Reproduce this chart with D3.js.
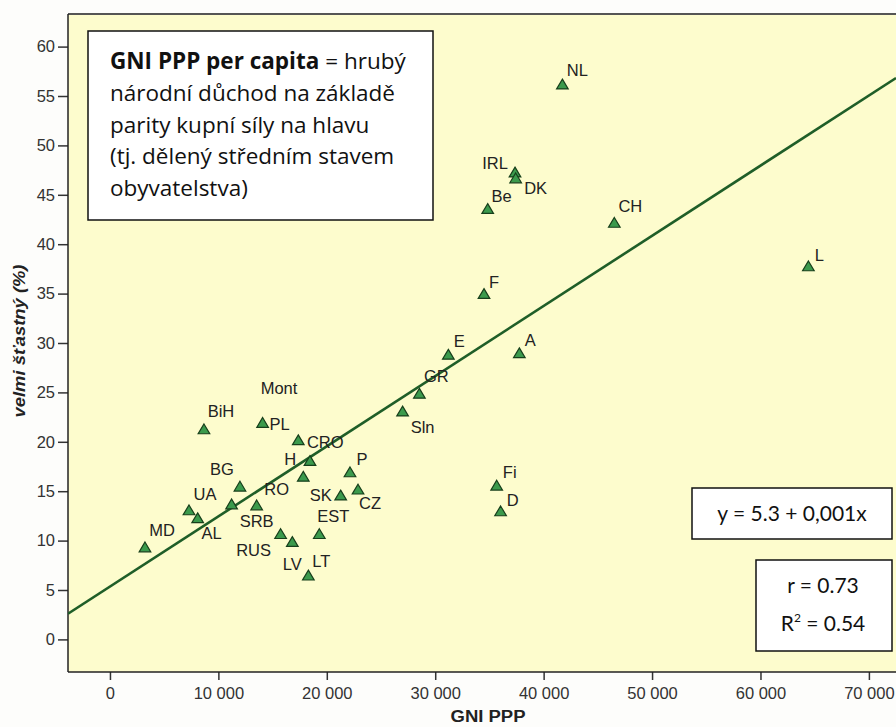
<!DOCTYPE html>
<html lang="cs">
<head>
<meta charset="utf-8" />
<title>GNI PPP a velmi šťastní</title>
<script src="https://d3js.org/d3.v7.min.js"></script>
<style>
  body { margin: 0; background: #fdfdfb; }
  svg text { font-family: "Liberation Sans", Arial, sans-serif; }
  .tick text { fill: #333; font-size: 16.5px; }
  .note text { font-family: Lato, "Open Sans", sans-serif; fill: #111; }
  .note text.long { font-family: "Open Sans", Lato, sans-serif; }
</style>
</head>
<body>
<div id="chart"></div>
<script>
// countries (labels), GNI PPP per capita and share of "very happy" (%)
var codes = ["MD", "UA", "AL", "BiH", "BG", "SRB", "RO", "PL", "Mont", "CRO", "H", "P", "SK", "CZ", "EST", "RUS", "LV", "LT",
             "Sln", "GR", "E", "A", "F", "Fi", "D", "Be", "IRL", "DK", "NL", "CH", "L"];
var gni = [3230, 7290, 8090, 8670, 11990, 11220, 13530, 14080, 18450, 17370, 17830, 22140, 21280, 22880, 19310, 15740, 16820, 18300,
           26990, 28540, 31210, 37760, 34500, 35670, 36030, 34840, 37360, 37420, 41730, 46520, 64420];
var happy = [9.35, 13.1, 12.3, 21.3, 15.5, 13.7, 13.6, 21.95, 18.1, 20.2, 16.5, 16.95, 14.6, 15.2, 10.7, 10.7, 9.9, 6.5,
             23.1, 24.9, 28.85, 29.0, 35.0, 15.6, 13.0, 43.6, 47.3, 46.7, 56.2, 42.2, 37.8];
var xTicks = [0, 10000, 20000, 30000, 40000, 50000, 60000, 70000];
var yTicks = [0, 5, 10, 15, 20, 25, 30, 35, 40, 45, 50, 55, 60];
// regression line y = a + b*x
var fitA = 5.35;
var fitB = 0.00071;

var noteLines = [
  [{t: "GNI PPP per capita", b: true}, {t: " = hrubý", b: false}],
  [{t: "národní důchod na základě", b: false}],
  [{t: "parity kupní síly na hlavu", b: false}],
  [{t: "(tj. dělený středním stavem", b: false}],
  [{t: "obyvatelstva)", b: false}]
];

// label nudges (px, from point to label centre)
var labelNudge = {
  MD: [17, -17], UA: [16, -16], AL: [14, 15], BiH: [17, -18], BG: [-18, -17], SRB: [25, 17], RO: [20, -16],
  PL: [17, 1], Mont: [-31, -73], CRO: [27, 2], H: [-13, -17], P: [12, -13], SK: [-20, 0], CZ: [12, 14],
  EST: [14, -18], RUS: [-27, 16], LV: [0, 22], LT: [13, -14], Sln: [20, 16], GR: [17, -17], E: [11, -13],
  A: [11, -13], F: [10, -12], Fi: [13, -13], D: [12, -11], Be: [14, -13], IRL: [-20, -9], DK: [20, 10],
  NL: [15, -14], CH: [16, -16], L: [11, -11]
};

var width = 896;
var height = 727;
var padL = 68, padR = 896, padT = 14, padB = 672;

var svg = d3.select("#chart").append("svg")
  .attr("width", width)
  .attr("height", height);

var xScale = d3.scaleLinear().domain([-3870, 72500]).range([padL, padR]);
var yScale = d3.scaleLinear().domain([-3.3, 63.3]).range([padB, padT]);

// plot background
svg.append("rect")
  .attr("x", padL).attr("y", padT)
  .attr("width", padR - padL).attr("height", padB - padT)
  .attr("fill", "#fdfccd");

svg.append("defs").append("clipPath").attr("id", "plot")
  .append("rect")
  .attr("x", padL).attr("y", padT)
  .attr("width", padR - padL).attr("height", padB - padT);

// axes
var fmt = function(d) { return d3.format(",")(d).replace(/,/g, " "); };

svg.append("g")
  .attr("transform", "translate(0," + padB + ")")
  .call(d3.axisBottom(xScale).tickValues(xTicks).tickFormat(fmt).tickSize(8).tickPadding(7))
  .call(function(g) {
    g.select(".domain").remove();
    g.selectAll(".tick line").attr("stroke", "#333").attr("stroke-width", 1.5);
  });

svg.append("g")
  .attr("transform", "translate(" + padL + ",0)")
  .call(d3.axisLeft(yScale).tickValues(yTicks).tickSize(10).tickPadding(3))
  .call(function(g) {
    g.select(".domain").remove();
    g.selectAll(".tick line").attr("stroke", "#333").attr("stroke-width", 1.5);
  });

// frame
svg.append("line").attr("x1", padL).attr("x2", padR).attr("y1", padT).attr("y2", padT)
  .attr("stroke", "#555").attr("stroke-width", 2);
svg.append("line").attr("x1", padL).attr("x2", padR).attr("y1", padB).attr("y2", padB)
  .attr("stroke", "#222").attr("stroke-width", 1.5);
svg.append("line").attr("x1", padL).attr("x2", padL).attr("y1", padT).attr("y2", padB)
  .attr("stroke", "#222").attr("stroke-width", 1.5);

// axis titles
svg.append("text")
  .attr("x", 488)
  .attr("y", 722)
  .attr("text-anchor", "middle")
  .attr("font-size", 16)
  .attr("font-weight", "bold")
  .attr("fill", "#222")
  .attr("textLength", 75)
  .attr("lengthAdjust", "spacingAndGlyphs")
  .text("GNI PPP");

svg.append("text")
  .attr("transform", "translate(25," + 341 + ") rotate(-90)")
  .attr("text-anchor", "middle")
  .attr("font-size", 16)
  .attr("font-weight", "bold")
  .attr("font-style", "italic")
  .attr("fill", "#222")
  .attr("textLength", 153)
  .attr("lengthAdjust", "spacingAndGlyphs")
  .text("velmi šťastný (%)");

// regression line
var dom = xScale.domain();
svg.append("line")
  .attr("clip-path", "url(#plot)")
  .attr("x1", xScale(dom[0])).attr("y1", yScale(fitA + fitB * dom[0]))
  .attr("x2", xScale(dom[1])).attr("y2", yScale(fitA + fitB * dom[1]))
  .attr("stroke", "#1f5e28")
  .attr("stroke-width", 2.6);

// points
var pts = codes.map(function(c, i) { return {code: c, x: gni[i], y: happy[i]}; });
var tri = "M0,-5L5.8,4.8L-5.8,4.8Z";

svg.append("g").selectAll("path")
  .data(pts)
  .join("path")
  .attr("d", tri)
  .attr("transform", function(d) { return "translate(" + xScale(d.x) + "," + yScale(d.y) + ")"; })
  .attr("fill", "#3b9a4c")
  .attr("stroke", "#173f1b")
  .attr("stroke-width", 1.2);

svg.append("g").selectAll("text")
  .data(pts)
  .join("text")
  .attr("x", function(d) { return xScale(d.x) + labelNudge[d.code][0]; })
  .attr("y", function(d) { return yScale(d.y) + labelNudge[d.code][1] + 6; })
  .attr("text-anchor", "middle")
  .attr("font-size", 16.5)
  .attr("fill", "#222")
  .text(function(d) { return d.code; });

// note box
var note = svg.append("g").attr("class", "note");
note.append("rect")
  .attr("x", 88).attr("y", 31).attr("width", 345).attr("height", 189)
  .attr("fill", "#fff").attr("stroke", "#111").attr("stroke-width", 1.5);
noteLines.forEach(function(line, i) {
  var t = note.append("text")
    .attr("class", "long")
    .attr("x", 110)
    .attr("y", 69 + i * 31.8)
    .attr("font-size", 22.5);
  line.forEach(function(part) {
    t.append("tspan").attr("font-weight", part.b ? "bold" : "normal").text(part.t);
  });
});

// equation box
note.append("rect")
  .attr("x", 692).attr("y", 488).attr("width", 200).attr("height", 51)
  .attr("fill", "#fff").attr("stroke", "#111").attr("stroke-width", 1.5);
note.append("text")
  .attr("x", 792).attr("y", 521)
  .attr("text-anchor", "middle")
  .attr("font-size", 21)
  .text("y = 5.3 + 0,001x");

note.append("rect")
  .attr("x", 756).attr("y", 560).attr("width", 136).attr("height", 91)
  .attr("fill", "#fff").attr("stroke", "#111").attr("stroke-width", 1.5);
note.append("text")
  .attr("x", 823).attr("y", 593)
  .attr("text-anchor", "middle")
  .attr("font-size", 21)
  .text("r = 0.73");
var r2 = note.append("text")
  .attr("x", 823).attr("y", 631)
  .attr("text-anchor", "middle")
  .attr("font-size", 21);
r2.append("tspan").text("R");
r2.append("tspan").attr("font-size", 12).attr("dy", -9).text("2");
r2.append("tspan").attr("dy", 9).text(" = 0.54");
</script>
</body>
</html>
